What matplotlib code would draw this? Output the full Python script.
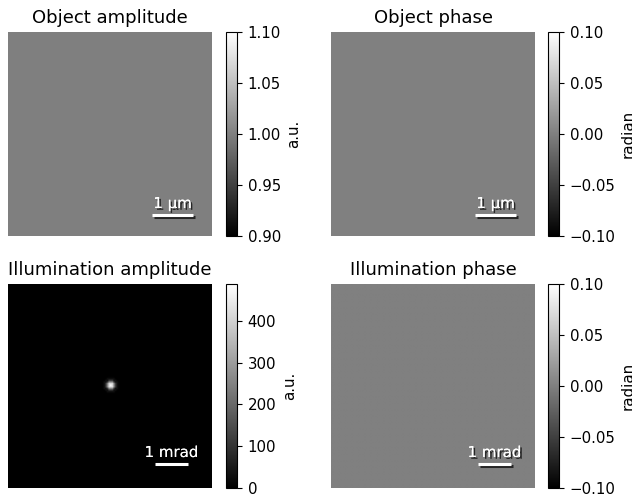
import matplotlib
matplotlib.use("Agg")
import matplotlib.pyplot as plt
import matplotlib.patheffects as pe
import numpy as np

# panel data
titles = ["Object amplitude", "Object phase", "Illumination amplitude", "Illumination phase"]
cbar_labels = ["a.u.", "radian", "a.u.", "radian"]
scale_labels = ["1 µm", "1 µm", "1 mrad", "1 mrad"]
object_amplitude = 1.0
object_phase = 0.0
illum_phase = 0.0
object_fov_um = 5.0
illum_fov_mrad = 6.2
n_obj = 64
n_ill = 128
# radial profile of the illumination spot (pixel radius -> amplitude)
spot_profile = [488, 420, 260, 110, 30, 5]
amp_limits = [(0.9, 1.1), (-0.1, 0.1), (0, 488), (-0.1, 0.1)]

##############################################################################
# Build the images

obj_amp = np.full((n_obj, n_obj), object_amplitude)
obj_ph = np.full((n_obj, n_obj), object_phase)
ill_ph = np.full((n_ill, n_ill), illum_phase)

yy, xx = np.mgrid[0:n_ill, 0:n_ill]
r = np.rint(np.hypot(xx - n_ill / 2, yy - n_ill / 2)).astype(int)
ill_amp = np.zeros((n_ill, n_ill))
for i, v in enumerate(spot_profile):
    ill_amp[r == i] = v

images = [obj_amp, obj_ph, ill_amp, ill_ph]
fovs = [object_fov_um, object_fov_um, illum_fov_mrad, illum_fov_mrad]

##############################################################################
# Layout in pixels

W, H = 632, 495
fig = plt.figure(figsize=(W / 100, H / 100), dpi=100)

img_left = [8, 331]
cb_left = [226, 548]
img_top = [32, 284]
size = 204
cb_w = 11

shadow = [pe.withSimplePatchShadow(offset=(1.3, -1.3), shadow_rgbFace="black", alpha=0.7), pe.Normal()]
line_shadow = [pe.SimpleLineShadow(offset=(1.3, -1.3), shadow_color="black", alpha=0.7), pe.Normal()]

for k in range(4):
    row, col = divmod(k, 2)
    x0 = img_left[col]
    y0 = H - img_top[row] - size
    ax = fig.add_axes([x0 / W, y0 / H, size / W, size / H])
    cax = fig.add_axes([cb_left[col] / W, y0 / H, cb_w / W, size / H])

    fov = fovs[k]
    vmin, vmax = amp_limits[k]
    im = ax.imshow(images[k], cmap="gray", vmin=vmin, vmax=vmax,
                   extent=[0, fov, 0, fov], origin="lower", interpolation="bilinear")
    ax.set_axis_off()
    ax.set_title(titles[k], fontsize=13, pad=6.5)

    cb = fig.colorbar(im, cax=cax)
    cb.set_label(cbar_labels[k], fontsize=10.8, labelpad=4)
    cb.ax.tick_params(labelsize=10.8, length=3.8, pad=3.8)

    # scale bar, lower right
    bar_len = 1.0
    if k < 2:
        x_end = fov - fov * 19 / size
        y_bar = fov * 21 / size
    else:
        x_end = fov - fov * 24 / size
        y_bar = fov * 24 / size
    ax.plot([x_end - bar_len, x_end], [y_bar, y_bar], color="white", lw=2.2,
            solid_capstyle="butt", path_effects=line_shadow)
    ax.text(x_end - bar_len / 2, y_bar + fov * 4 / size, scale_labels[k],
            color="white", ha="center", va="bottom", fontsize=10.8,
            path_effects=shadow)

fig.savefig("out.png", dpi=100)
